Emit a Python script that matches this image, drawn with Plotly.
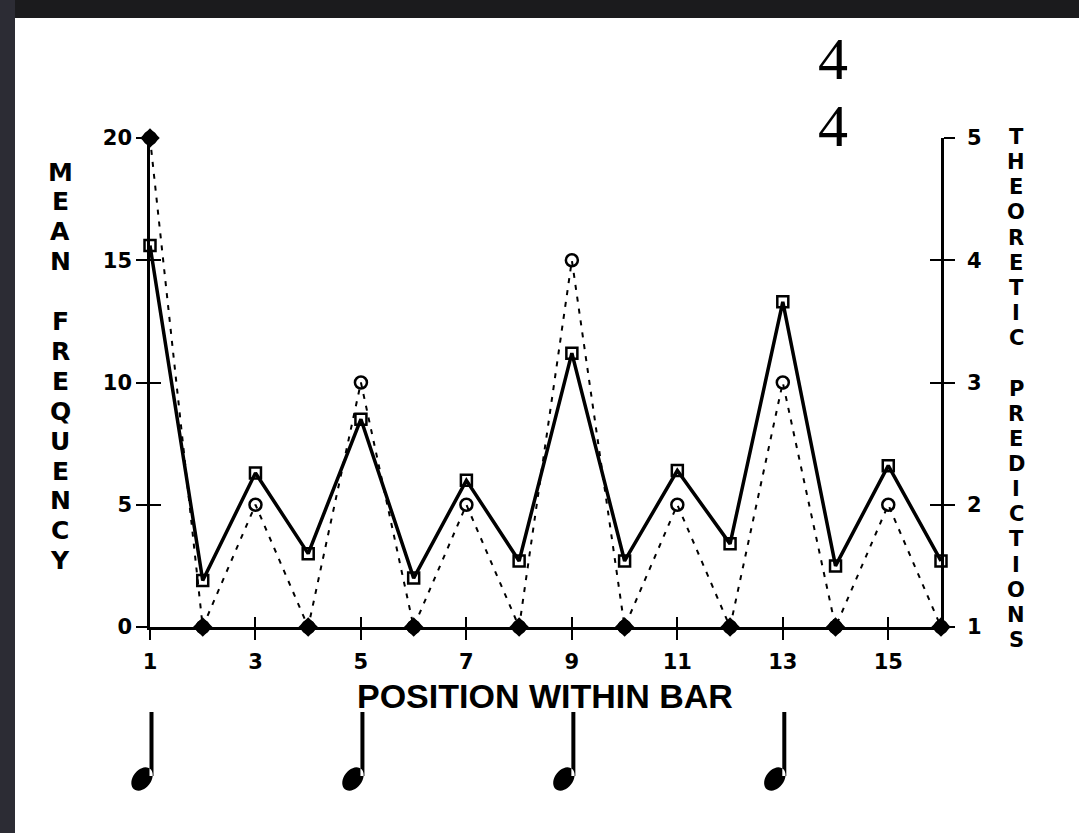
import math
import plotly.graph_objects as go

# ---------------- data ----------------
positions = list(range(1, 17))
mean_frequency = [15.6, 1.9, 6.3, 3.0, 8.5, 2.0, 6.0, 2.7, 11.2, 2.7, 6.4, 3.4, 13.3, 2.5, 6.6, 2.7]
theoretic_pred = [5, 1, 2, 1, 3, 1, 2, 1, 4, 1, 2, 1, 3, 1, 2, 1]
diamond_pred = [5, 1, None, 1, None, 1, None, 1, None, 1, None, 1, None, 1, None, 1]
x_ticks = [1, 3, 5, 7, 9, 11, 13, 15]
left_ticks = [0, 5, 10, 15, 20]
right_ticks = [1, 2, 3, 4, 5]
beat_positions = [1, 5, 9, 13]
left_title = "MEAN FREQUENCY"
right_title = "THEORETIC PREDICTIONS"
x_title = "POSITION WITHIN BAR"
time_signature = ["4", "4"]

# ---------------- layout geometry ----------------
W, H = 1079, 833
ML, MR, MT, MB = 150, 1079 - 941, 138, 833 - 627
PW, PH = W - ML - MR, H - MT - MB
X_RANGE = [1, 16]


def px(x):
    return (x - ML) / PW


def py(y):
    return 1 - (y - MT) / PH


def x_to_paper(v):
    return (v - X_RANGE[0]) / (X_RANGE[1] - X_RANGE[0])


BLACK = "#000000"
tickfont = dict(family="DejaVu Sans", size=21, color=BLACK, weight="bold")

fig = go.Figure()

# solid line: mean frequency (left axis)
fig.add_trace(go.Scatter(
    x=positions, y=mean_frequency, mode="lines+markers", yaxis="y",
    line=dict(color=BLACK, width=3.5),
    marker=dict(symbol="square-open", size=11, color=BLACK, line=dict(width=2.5)),
    cliponaxis=False, showlegend=False))

# dashed line: theoretic predictions (right axis)
fig.add_trace(go.Scatter(
    x=positions, y=theoretic_pred, mode="lines+markers", yaxis="y2",
    line=dict(color=BLACK, width=2, dash="5px,7px"),
    marker=dict(symbol="circle-open", size=12, color=BLACK, line=dict(width=2.5)),
    cliponaxis=False, showlegend=False))

# diamonds
fig.add_trace(go.Scatter(
    x=positions, y=diamond_pred, mode="markers", yaxis="y2",
    marker=dict(symbol="diamond", size=15, color=BLACK, line=dict(width=0)),
    cliponaxis=False, showlegend=False))

# empty traces for overlay axes that draw the inner half of the crossing ticks
fig.add_trace(go.Scatter(x=[], y=[], xaxis="x2", yaxis="y3", showlegend=False))
fig.add_trace(go.Scatter(x=[], y=[], xaxis="x2", yaxis="y4", showlegend=False))

common = dict(showgrid=False, zeroline=False, tickcolor=BLACK, tickwidth=2)

fig.update_layout(
    width=W, height=H,
    margin=dict(l=ML, r=MR, t=MT, b=MB, pad=0),
    paper_bgcolor="white", plot_bgcolor="white",
    xaxis=dict(range=X_RANGE, tickmode="array", tickvals=x_ticks,
               ticktext=[str(v) for v in x_ticks], ticks="outside", ticklen=10,
               showline=True, linecolor=BLACK, linewidth=2.5,
               tickfont=tickfont, ticklabelstandoff=4, **common),
    xaxis2=dict(range=X_RANGE, overlaying="x", tickmode="array", tickvals=x_ticks,
                ticks="inside", ticklen=10, showticklabels=False, showline=False,
                anchor="y3", side="bottom", **common),
    yaxis=dict(range=[0, 20], tickmode="array", tickvals=left_ticks,
               ticks="outside", ticklen=11, showline=True, linecolor=BLACK,
               linewidth=2.5, tickfont=tickfont, ticklabelstandoff=0, **common),
    yaxis2=dict(range=[1, 5], overlaying="y", side="right", tickmode="array",
                tickvals=right_ticks, ticks="outside", ticklen=11, showline=True,
                linecolor=BLACK, linewidth=2.5, tickfont=tickfont,
                ticklabelstandoff=8, **common),
    yaxis3=dict(range=[0, 20], overlaying="y", tickmode="array", tickvals=left_ticks,
                ticks="inside", ticklen=11, showticklabels=False, showline=False,
                anchor="x2", side="left", **common),
    yaxis4=dict(range=[1, 5], overlaying="y", side="right", tickmode="array",
                tickvals=right_ticks, ticks="inside", ticklen=11,
                showticklabels=False, showline=False, anchor="x2", **common),
)

annotations = []
shapes = []

# dark scanned-frame edges (top and left)
shapes.append(dict(type="rect", xref="paper", yref="paper", layer="above",
                   x0=px(-5), x1=px(W + 5), y0=py(18), y1=py(-5),
                   fillcolor="#1b1b1d", line=dict(width=0)))
shapes.append(dict(type="rect", xref="paper", yref="paper", layer="above",
                   x0=px(-5), x1=px(15), y0=py(H + 5), y1=py(-5),
                   fillcolor="#2c2c34", line=dict(width=0)))

# stacked left title letters
lt_top, lt_step = 172, 29.9
for i, ch in enumerate(left_title):
    if ch == " ":
        continue
    annotations.append(dict(text=ch, xref="paper", yref="paper", x=px(60), y=py(lt_top + i * lt_step),
                            xanchor="center", yanchor="middle", showarrow=False,
                            font=dict(family="DejaVu Sans", size=25, color=BLACK, weight="bold")))

# stacked right title letters
rt_top, rt_step = 137, 25.15
for i, ch in enumerate(right_title):
    if ch == " ":
        continue
    annotations.append(dict(text=ch, xref="paper", yref="paper", x=px(1016), y=py(rt_top + i * rt_step),
                            xanchor="center", yanchor="middle", showarrow=False,
                            font=dict(family="DejaVu Sans", size=21, color=BLACK, weight="bold")))

# x axis title
annotations.append(dict(text=x_title, xref="paper", yref="paper", x=px(545), y=py(696),
                        xanchor="center", yanchor="middle", showarrow=False,
                        font=dict(family="Liberation Sans", size=34, color=BLACK, weight="bold")))

# time signature
for i, t in enumerate(time_signature):
    annotations.append(dict(text=t, xref="paper", yref="paper", x=px(833), y=py(59 + i * 67),
                            xanchor="center", yanchor="middle", showarrow=False,
                            font=dict(family="Liberation Serif", size=60, color=BLACK)))


# quarter notes on the beats, drawn as pixel-sized paths anchored at each beat
def quarter_note_path():
    a, b, tilt = 13.0, 9.0, math.radians(52)
    cx, cy = -8.0, 0.0
    pts = []
    for k in range(36):
        t = 2 * math.pi * k / 36
        ex, ey = a * math.cos(t), b * math.sin(t)
        pts.append((cx + ex * math.cos(tilt) - ey * math.sin(tilt),
                    cy + ex * math.sin(tilt) + ey * math.cos(tilt)))
    head = "M " + " L ".join(f"{x:.2f},{y:.2f}" for x, y in pts) + " Z"
    stem = "M -0.5,3 L 3.5,3 L 3.5,67 L -0.5,67 Z"
    return head + " " + stem


note_path = quarter_note_path()
for b in beat_positions:
    shapes.append(dict(type="path", xref="paper", yref="paper", xsizemode="pixel", ysizemode="pixel",
                       xanchor=x_to_paper(b), yanchor=py(779), path=note_path,
                       fillcolor=BLACK, line=dict(width=0), layer="above"))

fig.update_layout(annotations=annotations, shapes=shapes)

fig.write_html("out.html", config={"displayModeBar": False},
               post_script="document.body.style.margin='0';document.body.style.overflow='hidden';")
